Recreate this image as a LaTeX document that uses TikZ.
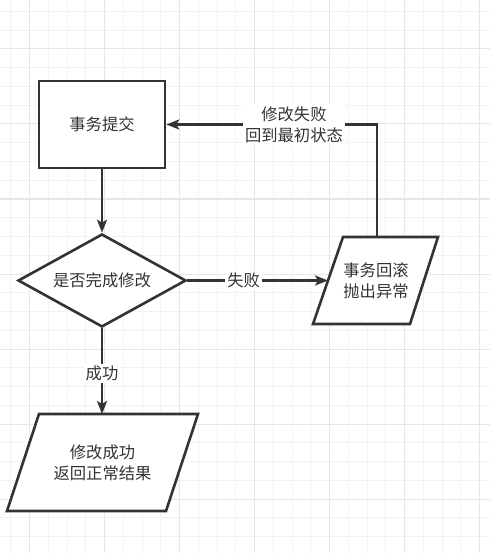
\documentclass[tikz,border=0pt]{standalone}
\usepackage{fontspec}
\setmainfont{Noto Sans CJK SC}
\usetikzlibrary{shapes.geometric,arrows.meta}
\definecolor{ink}{HTML}{333333}
\definecolor{gridminor}{HTML}{F2F2F2}
\definecolor{gridmajor}{HTML}{E6E6E6}
\tikzset{
  x=1pt, y=-1pt,
  txt/.style={font=\fontsize{16.3}{21}\selectfont, text=ink, align=center},
  stepbox/.style={draw=ink, line width=2.6pt, fill=white, rectangle, minimum width=126pt, minimum height=87pt, txt},
  decide/.style={draw=ink, line width=2.6pt, fill=white, diamond, shape aspect=1.8, minimum width=168pt, minimum height=93pt, inner sep=0pt, txt},
  para/.style={draw=ink, line width=2.6pt, fill=white, line join=miter},
  arr/.style={draw=ink, line width=2.5pt, -{Stealth[length=13pt,width=10pt,inset=3pt]}},
  lbl/.style={fill=white, inner sep=2pt, txt},
}
\begin{document}
\begin{tikzpicture}
\useasboundingbox (0,0) rectangle (490,553);
\fill[white] (0,0) rectangle (490,553);
% grid
\foreach \i in {0,...,25} {
  \draw[gridminor, line width=1pt] ({10.75+18.75*\i},0) -- ({10.75+18.75*\i},553);
}
\foreach \i in {0,...,29} {
  \draw[gridminor, line width=1pt] (0,{11.5+18.75*\i}) -- (490,{11.5+18.75*\i});
}
\foreach \i in {0,...,6} {
  \draw[gridmajor, line width=1pt] ({29.5+75*\i},0) -- ({29.5+75*\i},553);
}
\foreach \i in {0,...,6} {
  \draw[gridmajor, line width=1pt] (0,{49+75*\i}) -- (490,{49+75*\i});
}
% nodes
\node[stepbox] (commit) at (102,124.5) {事务提交};
\node[decide] (dec) at (102,280.5) {是否完成修改};
% rollback parallelogram
\coordinate (rbTL) at (343,237);
\coordinate (rbTR) at (438,237);
\coordinate (rbBR) at (410,324);
\coordinate (rbBL) at (313,324);
\draw[para] (rbTL) -- (rbTR) -- (rbBR) -- (rbBL) -- cycle;
\node[txt] (rb) at (376,281) {事务回滚\\抛出异常};
\coordinate (rbL) at (328,280.5);
\coordinate (rbT) at (377,237);
% success parallelogram
\coordinate (okTL) at (39,414);
\coordinate (okTR) at (198,414);
\coordinate (okBR) at (166,511);
\coordinate (okBL) at (7,511);
\draw[para] (okTL) -- (okTR) -- (okBR) -- (okBL) -- cycle;
\node[txt] (ok) at (102.5,462.5) {修改成功\\返回正常结果};
\coordinate (okT) at (102,414);
% connectors
\draw[arr] (commit.south) -- (dec.north);
\draw[arr] (dec.east) -- node[lbl, pos=0.4] {失败} (rbL);
\draw[arr] (dec.south) -- node[lbl, pos=0.53] {成功} (okT);
\draw[arr] (rbT) |- node[lbl, pos=0.697] {修改失败\\回到最初状态} (commit.east);
\end{tikzpicture}
\end{document}
